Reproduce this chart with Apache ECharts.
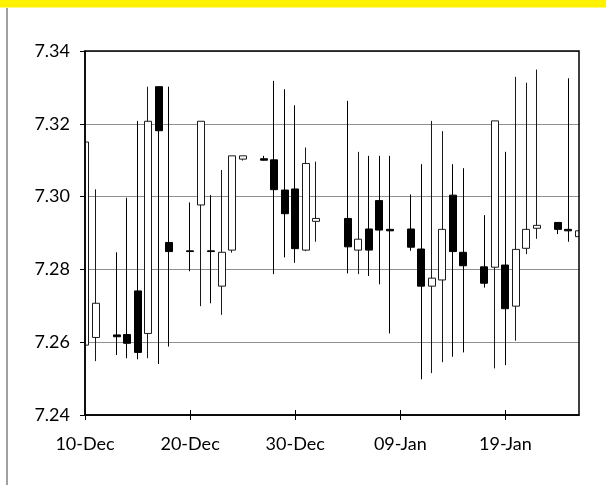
<!DOCTYPE html>
<html>
<head>
<meta charset="utf-8">
<script src="https://cdn.jsdelivr.net/npm/echarts@6/dist/echarts.min.js"></script>
<style>
html,body{margin:0;padding:0;background:#fff;}
#c{width:606px;height:485px;}
</style>
</head>
<body>
<div id="c"></div>
<script>
// Trading dates
var dates = [
  "2010-12-10","2010-12-11","2010-12-13","2010-12-14","2010-12-15","2010-12-16","2010-12-17","2010-12-18",
  "2010-12-20","2010-12-21","2010-12-22","2010-12-23","2010-12-24","2010-12-25","2010-12-27","2010-12-28",
  "2010-12-29","2010-12-30","2010-12-31","2011-01-01","2011-01-04","2011-01-05","2011-01-06","2011-01-07",
  "2011-01-08","2011-01-10","2011-01-11","2011-01-12","2011-01-13","2011-01-14","2011-01-15","2011-01-17",
  "2011-01-18","2011-01-19","2011-01-20","2011-01-21","2011-01-22","2011-01-24","2011-01-25","2011-01-26"
];
var openVals = [
  7.2592,7.2613,7.2620,7.2621,7.2741,7.2624,7.3302,7.2874,
  7.2851,7.2977,7.2851,7.2754,7.2853,7.3103,7.3104,7.3101,
  7.3018,7.3021,7.2853,7.2932,7.2940,7.2853,7.2911,7.2989,
  7.2910,7.2911,7.2856,7.2754,7.2771,7.3004,7.2847,7.2807,
  7.2806,7.2812,7.2699,7.2858,7.2913,7.2929,7.2910,7.2890
];
var closeVals = [
  7.3150,7.2707,7.2615,7.2597,7.2572,7.3207,7.3181,7.2849,
  7.2849,7.3207,7.2849,7.2847,7.3112,7.3112,7.3100,7.3019,
  7.2953,7.2857,7.3091,7.2940,7.2862,7.2883,7.2853,7.2908,
  7.2906,7.2861,7.2754,7.2776,7.2910,7.2849,7.2810,7.2762,
  7.3208,7.2692,7.2855,7.2910,7.2921,7.2910,7.2906,7.2906
];
var lowVals = [
  7.2590,7.2548,7.2565,7.2556,7.2553,7.2556,7.2540,7.2588,
  7.2795,7.2699,7.2707,7.2675,7.2846,7.3099,7.3099,7.2787,
  7.2833,7.2818,7.2850,7.2876,7.2789,7.2787,7.2782,7.2759,
  7.2624,7.2851,7.2498,7.2515,7.2545,7.2560,7.2572,7.2750,
  7.2528,7.2537,7.2604,7.2842,7.2884,7.2897,7.2876,7.2890
];
var highVals = [
  7.3150,7.3020,7.2847,7.2997,7.3208,7.3302,7.3302,7.3302,
  7.2984,7.3207,7.3004,7.3073,7.3112,7.3112,7.3112,7.3318,
  7.3295,7.3251,7.3135,7.3096,7.3263,7.3123,7.3112,7.3112,
  7.3112,7.3006,7.3089,7.3208,7.3180,7.3089,7.3078,7.2949,
  7.3208,7.3123,7.3329,7.3313,7.3349,7.2929,7.3325,7.2906
];
var startDate = "2010-12-10";
var tickDays = [0,10,20,30,40];
var tickLabels = ["10-Dec","20-Dec","30-Dec","09-Jan","19-Jan"];
var yTicks = ["7.24","7.26","7.28","7.30","7.32","7.34"];

function dayOffset(s){
  var a = s.split("-"), b = startDate.split("-");
  return Math.round((Date.UTC(+a[0],a[1]-1,+a[2]) - Date.UTC(+b[0],b[1]-1,+b[2])) / 86400000);
}
var candleData = dates.map(function(d,i){
  return [dayOffset(d), openVals[i], closeVals[i], lowVals[i], highVals[i]];
});

var FONT = "Lato";
var GL = 85, GR = 27, GT = 51, GB = 70, W = 606, H = 485;
var chart = echarts.init(document.getElementById('c'), null, {renderer:'canvas'});
chart.setOption({
  animation:false,
  backgroundColor:'#ffffff',
  grid:{left:GL,right:GR,top:GT,bottom:GB,show:true,borderColor:'#000',borderWidth:1.5,backgroundColor:'transparent',z:10},
  xAxis:[{
    type:'value',min:0,max:47,interval:10,z:10,
    axisLine:{show:true,onZero:false,lineStyle:{color:'#000',width:1.5}},
    axisTick:{show:true,length:5,inside:false,customValues:tickDays,lineStyle:{color:'#000',width:1}},
    axisLabel:{customValues:tickDays,margin:20,color:'#000',fontFamily:FONT,fontSize:18,
      formatter:function(v){var k=tickDays.indexOf(Math.round(v));return k>=0?tickLabels[k]:'';}},
    splitLine:{show:false}
  },{
    type:'value',min:0,max:47,interval:10,position:'bottom',z:10,
    axisLine:{show:false},
    axisTick:{show:true,length:5,inside:true,customValues:tickDays,lineStyle:{color:'#000',width:1}},
    axisLabel:{show:false},
    splitLine:{show:false}
  }],
  yAxis:[{
    type:'value',min:7.24,max:7.34,interval:0.02,position:'left',z:0,
    axisLine:{show:false},
    axisTick:{show:false},
    axisLabel:{show:false},
    splitLine:{show:true,lineStyle:{color:'#8f8f8f',width:1.2}}
  },{
    type:'value',min:7.24,max:7.34,interval:0.02,position:'left',z:10,
    axisLine:{show:true,lineStyle:{color:'#000',width:1.5}},
    axisTick:{show:true,length:5,lineStyle:{color:'#000',width:1}},
    axisLabel:{margin:15,color:'#000',fontFamily:FONT,fontSize:18,
      formatter:function(v){var k=Math.round((v-7.24)/0.02);return yTicks[k]!==undefined?yTicks[k]:v.toFixed(2);}},
    splitLine:{show:false}
  }],
  series:[{
    type:'candlestick',
    xAxisIndex:0,
    yAxisIndex:0,
    data:candleData,
    barWidth:7.5,
    clip:true,
    z:2,
    itemStyle:{color:'#ffffff',color0:'#000000',borderColor:'#1a1a1a',borderColor0:'#000000',borderWidth:1}
  }],
  graphic:[
    {type:'rect',z:5,shape:{x:GL-10,y:GT-10,width:10,height:H-GT-GB+20},style:{fill:'#ffffff'},silent:true},
    {type:'rect',z:5,shape:{x:W-GR,y:GT-10,width:12,height:H-GT-GB+20},style:{fill:'#ffffff'},silent:true},
    {type:'rect',z:6,shape:{x:0,y:0,width:W,height:7.5},style:{fill:'#fff200'},silent:true},
    {type:'line',z:6,shape:{x1:7,y1:8,x2:7,y2:H},style:{stroke:'#808080',lineWidth:1.5},silent:true}
  ]
});
</script>
</body>
</html>
